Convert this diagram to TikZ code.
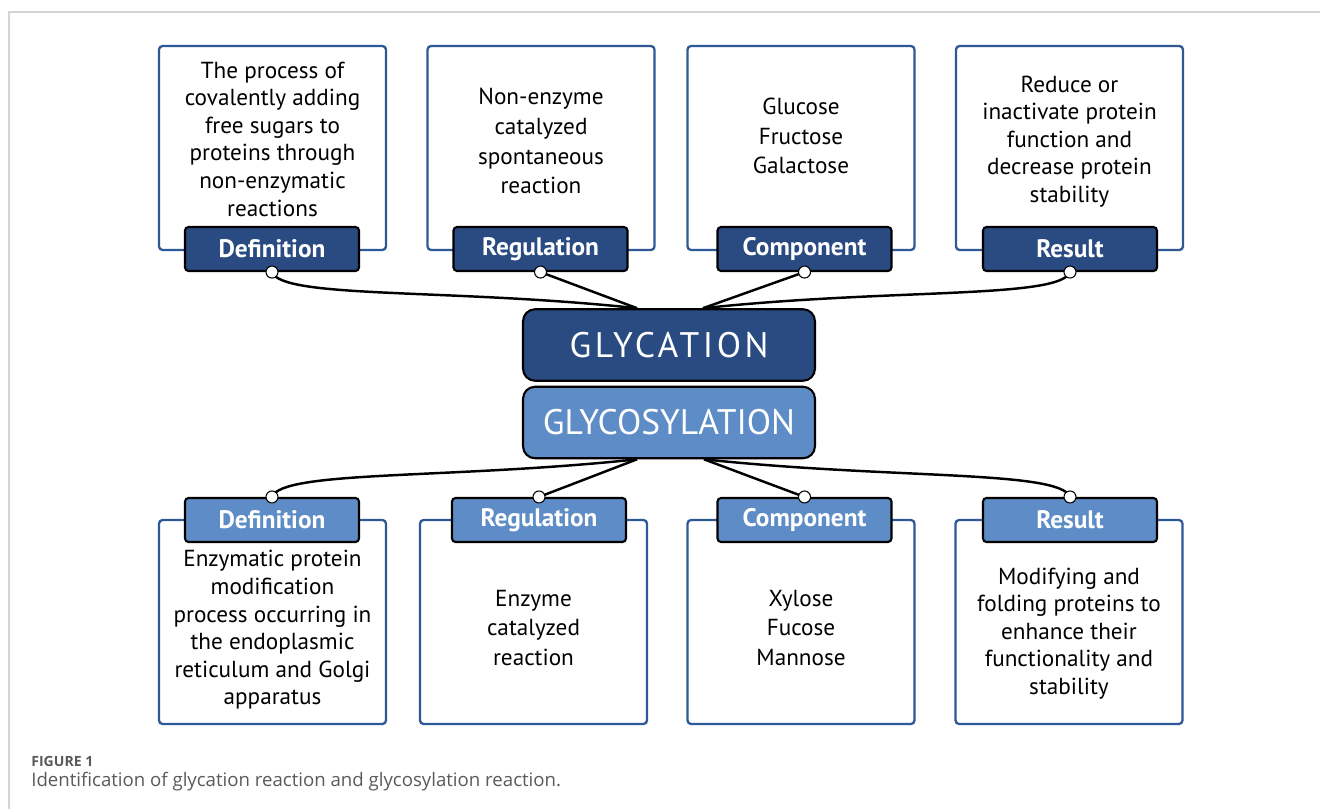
\documentclass[tikz,border=0pt]{standalone}
\usepackage{fontspec}
\setmainfont{PT Sans}
\newfontfamily\captionfont{Open Sans}
\usetikzlibrary{positioning}
\definecolor{glycDark}{HTML}{2A4B82}
\definecolor{glycLight}{HTML}{5E8CC6}
\definecolor{boxBlue}{HTML}{2E5896}
\definecolor{frameGray}{HTML}{D4D4D4}
\definecolor{captionGray}{HTML}{5A5A5A}
\tikzset{
	infobox/.style={draw=boxBlue, line width=1.3pt, rounded corners=2pt, fill=white,
		minimum width=4.54cm, minimum height=4.08cm},
	infotext/.style={align=center, font=\fontsize{13.2}{15.7}\selectfont},
	widetext/.style={infotext, font=\fontsize{13.2}{17}\selectfont},
	tagbox/.style={draw=black, line width=1.2pt, rounded corners=2pt, text=white,
		minimum width=3.48cm, minimum height=0.88cm, inner sep=0pt,
		font=\fontsize{14.4}{16}\selectfont\bfseries},
	darktag/.style={tagbox, fill=glycDark},
	lighttag/.style={tagbox, fill=glycLight},
	hub/.style={draw=black, line width=1.2pt, rounded corners=0.24cm, text=white,
		minimum width=5.84cm, minimum height=1.43cm, font=\fontsize{20.2}{24}\selectfont},
	link/.style={line width=1.4pt},
	joint/.style={circle, draw=black, fill=white, line width=0.6pt, inner sep=0pt, minimum size=0.24cm}
}
\begin{document}
\begin{tikzpicture}[x=0.02cm, y=-0.02cm]
	\useasboundingbox[fill=white] (0,0) rectangle (1320,809);
	\draw[frameGray, line width=0.6pt] (9,809) -- (9,12) -- (1320,12);

	\node[infobox] (GlycDefBox) at (272.5,148) {};
	\node[infobox] (GlycRegBox) at (541,148) {};
	\node[infobox] (GlycCompBox) at (801,148) {};
	\node[infobox] (GlycResBox) at (1069.5,148) {};
	\node[infotext] (GlycDefText) at (272.5,139) {The process of\\covalently adding\\free sugars to\\proteins through\\non-enzymatic\\reactions};
	\node[widetext] (GlycRegText) at (541,141) {Non-enzyme\\catalyzed\\spontaneous\\reaction};
	\node[widetext] (GlycCompText) at (801,136) {Glucose\\Fructose\\Galactose};
	\node[infotext] (GlycResText) at (1069.5,141.5) {Reduce or\\inactivate protein\\function and\\decrease protein\\stability};
	\node[darktag] (GlycDef) at (272,249) {Definition};
	\node[darktag] (GlycReg) at (540.5,249) {Regulation};
	\node[darktag] (GlycComp) at (804.5,249) {Component};
	\node[darktag] (GlycRes) at (1070,249) {Result};

	\node[infobox] (GlycoDefBox) at (272.5,622) {};
	\node[infobox] (GlycoRegBox) at (533.5,622) {};
	\node[infobox] (GlycoCompBox) at (801,622) {};
	\node[infobox] (GlycoResBox) at (1069,622) {};
	\node[infotext] (GlycoDefText) at (272.5,630) {Enzymatic protein\\modification\\process occurring in\\the endoplasmic\\reticulum and Golgi\\apparatus};
	\node[widetext] (GlycoRegText) at (533.5,628) {Enzyme\\catalyzed\\reaction};
	\node[widetext] (GlycoCompText) at (801,628) {Xylose\\Fucose\\Mannose};
	\node[infotext] (GlycoResText) at (1069,633.5) {Modifying and\\folding proteins to\\enhance their\\functionality and\\stability};
	\node[lighttag] (GlycoDef) at (272,520) {Definition};
	\node[lighttag] (GlycoReg) at (539,520) {Regulation};
	\node[lighttag] (GlycoComp) at (804.5,520) {Component};
	\node[lighttag] (GlycoRes) at (1070,520) {Result};

	\node[hub, fill=glycDark] (Glycation) at (669,345) {\addfontfeatures{LetterSpace=10}GLYCATION};
	\node[hub, fill=glycLight] (Glycosylation) at (669,422.5) {GLYCOSYLATION};

	\draw[link] (GlycDef.south) .. controls +(10,27) and +(-187,-20) .. ([xshift=-0.64cm]Glycation.north);
	\draw[link] (GlycReg.south) -- ([xshift=-0.64cm]Glycation.north);
	\draw[link] (GlycComp.south) -- ([xshift=0.68cm]Glycation.north);
	\draw[link] (GlycRes.south) .. controls +(-10,27) and +(187,-20) .. ([xshift=0.68cm]Glycation.north);
	\draw[link] (GlycoDef.north) .. controls +(10,-27) and +(-187,20) .. ([xshift=-0.64cm]Glycosylation.south);
	\draw[link] (GlycoReg.north) -- ([xshift=-0.64cm]Glycosylation.south);
	\draw[link] (GlycoComp.north) -- ([xshift=0.7cm]Glycosylation.south);
	\draw[link] (GlycoRes.north) .. controls +(-10,-27) and +(187,20) .. ([xshift=0.7cm]Glycosylation.south);

	\node[joint] (GlycDefDot) at (GlycDef.south) {};
	\node[joint] (GlycRegDot) at (GlycReg.south) {};
	\node[joint] (GlycCompDot) at (GlycComp.south) {};
	\node[joint] (GlycResDot) at (GlycRes.south) {};
	\node[joint] (GlycoDefDot) at (GlycoDef.north) {};
	\node[joint] (GlycoRegDot) at (GlycoReg.north) {};
	\node[joint] (GlycoCompDot) at (GlycoComp.north) {};
	\node[joint] (GlycoResDot) at (GlycoRes.north) {};

	\node[anchor=base west, inner sep=0pt, text=captionGray, font=\captionfont\fontsize{8}{10}\selectfont\bfseries] (FigLabel) at (31,766) {FIGURE 1};
	\node[anchor=base west, inner sep=0pt, text=captionGray, font=\captionfont\fontsize{10.6}{13}\selectfont] (FigCaption) at (31,786) {Identification of glycation reaction and glycosylation reaction.};
\end{tikzpicture}
\end{document}
